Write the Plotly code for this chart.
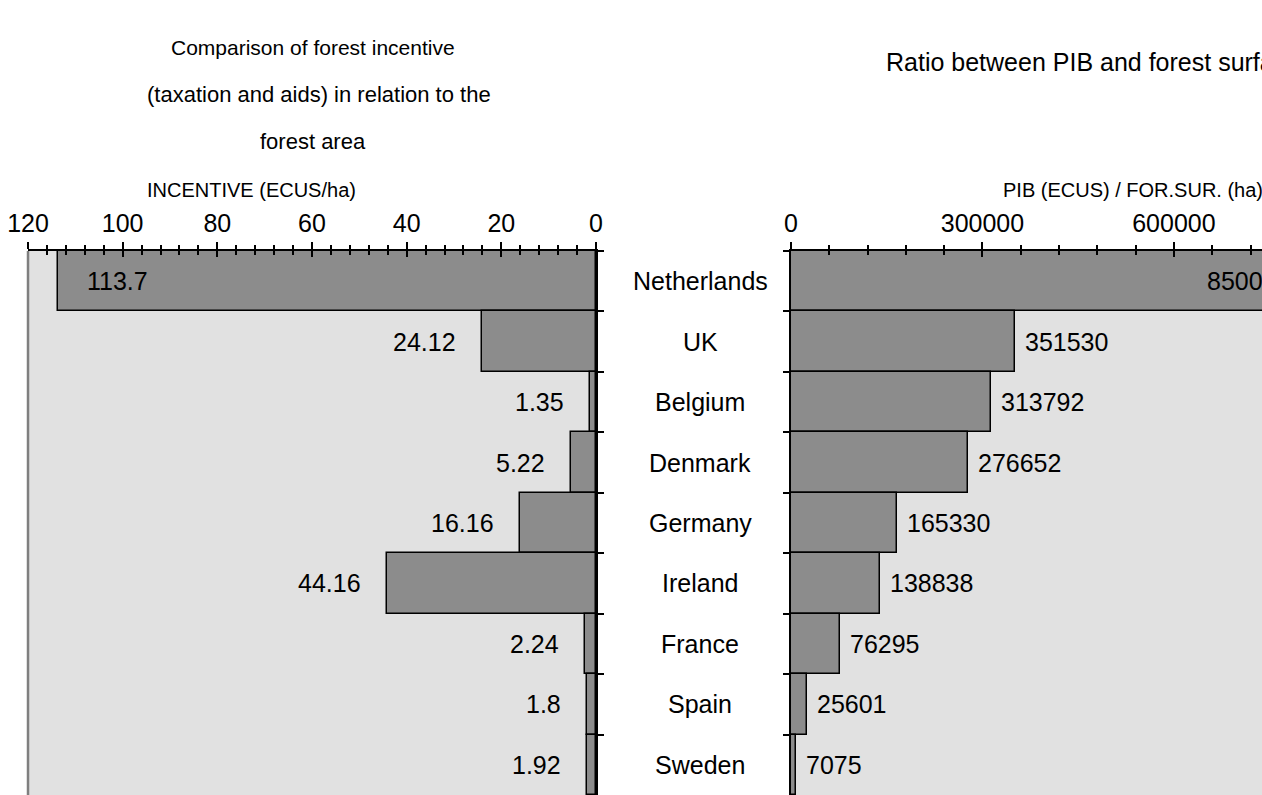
import plotly.graph_objects as go

# ---- data ----
countries = ["Netherlands", "UK", "Belgium", "Denmark", "Germany",
             "Ireland", "France", "Spain", "Sweden"]
incentive = [113.7, 24.12, 1.35, 5.22, 16.16, 44.16, 2.24, 1.8, 1.92]      # ECUS/ha
pib_ratio = [850000, 351530, 313792, 276652, 165330, 138838, 76295, 25601, 7075]
incentive_ticks = [120, 100, 80, 60, 40, 20, 0]
pib_ticks = [0, 300000, 600000]

# ---- layout constants ----
W, H = 1262, 795
FONT = "Liberation Sans, Arial, sans-serif"
BAR_FILL = "#8c8c8c"
PLOT_BG = "#e1e1e1"
INC_MAX = 120
PIB_MAX = 738000
FS = 25

left_dom = [28 / W, 596 / W]
right_dom = [791 / W, 1.0]
y_dom = [0, 1 - 251 / H]
n = len(countries)
y_range = [n - 0.5, -0.5]

bar_style = dict(color=BAR_FILL, line=dict(color="black", width=1.5))

fig = go.Figure()
fig.add_bar(y=countries, x=incentive, orientation="h", xaxis="x", yaxis="y",
            marker=bar_style, hoverinfo="x+y")
fig.add_bar(y=countries, x=pib_ratio, orientation="h", xaxis="x2", yaxis="y2",
            marker=bar_style, hoverinfo="x+y")
# empty traces so the overlay axes (inner half of the crossing ticks) exist
fig.add_bar(y=[], x=[], xaxis="x3", yaxis="y", showlegend=False)
fig.add_bar(y=[], x=[], xaxis="x4", yaxis="y2", showlegend=False)


def top_axis(domain, rng, tickvals, minor_dtick, anchor, labels=True,
             overlay=None):
    ax = dict(domain=domain, range=rng, side="top", anchor=anchor,
              tickmode="array", tickvals=tickvals,
              ticktext=[str(v) for v in tickvals],
              ticks="inside" if overlay else "outside",
              ticklen=6 if overlay else 7, tickwidth=1.5, tickcolor="black",
              minor=dict(dtick=minor_dtick, tick0=0,
                         ticks="inside" if overlay else "outside",
                         ticklen=4, tickwidth=1.5, tickcolor="black",
                         showgrid=False),
              showticklabels=labels, showgrid=False, zeroline=False,
              showline=not overlay, linecolor="black", linewidth=1.5,
              tickfont=dict(family=FONT, size=FS, color="black"),
              fixedrange=True)
    if labels:
        ax["ticklabelstandoff"] = 0
    if overlay:
        ax["overlaying"] = overlay
    return ax


fig.update_layout(
    width=W, height=H,
    margin=dict(l=0, r=0, t=0, b=0, pad=0, autoexpand=False),
    paper_bgcolor="white", plot_bgcolor=PLOT_BG,
    showlegend=False, bargap=0,
    font=dict(family=FONT, size=FS, color="black"),
    xaxis=top_axis(left_dom, [INC_MAX, 0], incentive_ticks, 4, "y"),
    xaxis3=top_axis(left_dom, [INC_MAX, 0], incentive_ticks, 4, "y",
                    labels=False, overlay="x"),
    xaxis2=top_axis(right_dom, [0, PIB_MAX], pib_ticks, 60000, "y2"),
    xaxis4=top_axis(right_dom, [0, PIB_MAX], pib_ticks, 60000, "y2",
                    labels=False, overlay="x2"),
    yaxis=dict(domain=y_dom, anchor="x", side="right", range=y_range,
               type="category", categoryorder="array", categoryarray=countries,
               tickson="boundaries", ticks="outside", ticklen=6, tickwidth=1.5,
               tickcolor="black", showticklabels=False, showgrid=False,
               showline=True, linecolor="black", linewidth=1.5, fixedrange=True),
    yaxis2=dict(domain=y_dom, anchor="x2", side="left", range=y_range,
                type="category", categoryorder="array", categoryarray=countries,
                tickson="boundaries", ticks="outside", ticklen=6, tickwidth=1.5,
                tickcolor="black", showticklabels=False, showgrid=False,
                showline=True, linecolor="black", linewidth=1.5, fixedrange=True),
)

# grey border on the outer edge of the incentive panel
fig.add_shape(type="line", xref="x domain", yref="y domain",
              x0=0, x1=0, y0=0, y1=1, line=dict(color="#7f7f7f", width=2.5))

ann = []
txt = dict(family=FONT, size=FS, color="black")

# value labels, incentive panel
for c, v in zip(countries, incentive):
    if v > INC_MAX / 2:
        ann.append(dict(x=v, y=c, xref="x", yref="y", text=f"{v:g}",
                        xanchor="left", xshift=27, showarrow=False, font=txt))
    else:
        ann.append(dict(x=v, y=c, xref="x", yref="y", text=f"{v:g}",
                        xanchor="right", xshift=-24, showarrow=False, font=txt))

# value labels, PIB / forest surface panel
for c, v in zip(countries, pib_ratio):
    if v >= PIB_MAX:
        ann.append(dict(x=PIB_MAX * 0.9999, y=c, xref="x2", yref="y2",
                        text=f"{v}", xanchor="right", xshift=30,
                        showarrow=False, font=txt))
    else:
        ann.append(dict(x=v, y=c, xref="x2", yref="y2", text=f"{v}",
                        xanchor="left", xshift=8, showarrow=False, font=txt))

# country names between the panels
for c in countries:
    ann.append(dict(x=700 / W, y=c, xref="paper", yref="y", text=c,
                    xanchor="center", showarrow=False, font=txt))

# axis titles
ann.append(dict(x=251 / W, y=1 - 190 / H, xref="paper", yref="paper",
                text="INCENTIVE (ECUS/ha)", xanchor="center", yanchor="middle",
                showarrow=False, font=dict(family=FONT, size=20, color="black")))
ann.append(dict(x=1001 / W, y=1 - 190 / H, xref="paper", yref="paper",
                text="PIB (ECUS) / FOR.SUR. (ha)", xanchor="left",
                yanchor="middle", showarrow=False,
                font=dict(family=FONT, size=20, color="black")))

# panel titles
for line, xpx, ypx, size in [("Comparison of forest incentive", 313, 48, 21),
                             ("(taxation and aids) in relation to the", 319, 95, 22),
                             ("forest area", 313, 142, 22)]:
    ann.append(dict(x=xpx / W, y=1 - ypx / H, xref="paper", yref="paper",
                    text=line, xanchor="center", yanchor="middle",
                    showarrow=False, font=dict(family=FONT, size=size, color="black")))
ann.append(dict(x=884 / W, y=1 - 62 / H, xref="paper", yref="paper",
                text="Ratio between PIB and forest surface", xanchor="left",
                yanchor="middle", showarrow=False,
                font=dict(family=FONT, size=25, color="black")))

fig.update_layout(annotations=ann)
fig.write_html("out.html")
